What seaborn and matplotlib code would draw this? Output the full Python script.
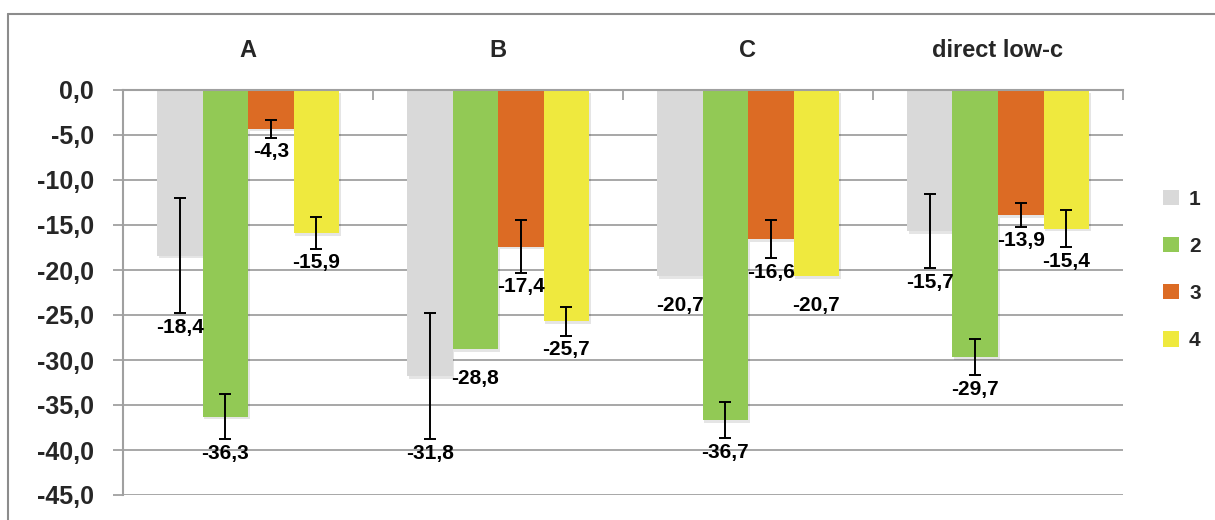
"""Grouped negative bar chart (Excel look) with error bars and value labels."""

import matplotlib

matplotlib.use("Agg")
import matplotlib.patheffects as pe
import matplotlib.pyplot as plt
import pandas as pd
import seaborn as sns
from matplotlib.lines import Line2D
from matplotlib.patches import Patch

categories = ["A", "B", "C", "direct low-c"]
series = ["1", "2", "3", "4"]

values_1 = [-18.4, -31.8, -20.7, -15.7]
values_2 = [-36.3, -28.8, -36.7, -29.7]
values_3 = [-4.3, -17.4, -16.6, -13.9]
values_4 = [-15.9, -25.7, -20.7, -15.4]

# half-widths of the error bars (0 = no error bar drawn)
errors_1 = [6.4, 7.0, 0.0, 4.1]
errors_2 = [2.5, 0.0, 2.0, 2.0]
errors_3 = [1.0, 2.9, 2.1, 1.3]
errors_4 = [1.75, 1.6, 0.0, 2.05]

y_ticks = [0, -5, -10, -15, -20, -25, -30, -35, -40, -45]

_COLORS = ["#d9d9d9", "#92c955", "#dc6b24", "#efe93e"]
_GRID = "#a0a0a0"
_INK = "#000000"

all_values = [values_1, values_2, values_3, values_4]
all_errors = [errors_1, errors_2, errors_3, errors_4]

df = pd.DataFrame(
    [
        {"category": cat, "series": s, "value": v}
        for s, vals in zip(series, all_values)
        for cat, v in zip(categories, vals)
    ]
)

sns.set_style("white")
plt.rcParams["font.family"] = ["Liberation Sans", "DejaVu Sans"]
plt.rcParams["font.weight"] = "bold"

fig = plt.figure(figsize=(12.15, 5.2), dpi=100)
ax = fig.add_axes([123 / 1215, 25 / 520, 1000 / 1215, 405 / 520])

sns.barplot(
    data=df,
    x="category",
    y="value",
    hue="series",
    order=categories,
    hue_order=series,
    palette=_COLORS,
    width=0.728,
    saturation=1,
    errorbar=None,
    linewidth=0,
    legend=False,
    ax=ax,
)

# soft Excel-like drop shadow under each bar
shadow = [pe.SimplePatchShadow(offset=(1.2, -2), shadow_rgbFace="#000000", alpha=0.1), pe.Normal()]

for container, errs in zip(ax.containers, all_errors):
    for bar, err in zip(container, errs):
        bar.set_path_effects(shadow)
        bar.set_zorder(2)
        x = bar.get_x() + bar.get_width() / 2
        v = min(bar.get_y(), bar.get_y() + bar.get_height())
        if err > 0:
            ax.errorbar(
                x, v, yerr=err, fmt="none", ecolor=_INK, elinewidth=1.4,
                capsize=4.5, capthick=1.4, zorder=4,
            )
            label_y = v - err - 0.5
        else:
            label_y = v - 2.2
        ax.text(
            x, label_y, f"{v:.1f}".replace(".", ","), ha="center", va="top",
            fontsize=15, fontweight="bold", color=_INK, zorder=5,
        )

ax.set_ylim(-45, 0)
ax.set_xlim(-0.5, len(categories) - 0.5)
ax.set_yticks(y_ticks)
ax.set_yticklabels([f"{t:.1f}".replace(".", ",") for t in y_ticks], fontweight="bold")
ax.grid(axis="y", color=_GRID, linewidth=1.3)
ax.set_axisbelow(True)
ax.tick_params(axis="y", direction="out", length=7, width=1.3, color=_GRID,
               labelsize=18, pad=14, left=True)

ax.xaxis.tick_top()
ax.set_xticks(range(len(categories)))
ax.set_xticklabels(categories, fontsize=17, fontweight="bold")
ax.set_xticks([i - 0.5 for i in range(len(categories) + 1)], minor=True)
ax.tick_params(axis="x", which="major", length=0, pad=20)
ax.tick_params(axis="x", which="minor", direction="in", length=7, width=1.3, color=_GRID)
ax.set_xlabel("")
ax.set_ylabel("")

for side in ("right", "bottom"):
    ax.spines[side].set_visible(False)
for side in ("top", "left"):
    ax.spines[side].set_color(_GRID)
    ax.spines[side].set_linewidth(1.5)

handles = [Patch(facecolor=c, edgecolor="none") for c in _COLORS]
fig.legend(
    handles, series, loc="center left", bbox_to_anchor=(1163 / 1215, 1 - 270 / 520),
    frameon=False, prop={"weight": "bold", "size": 15},
    handlelength=0.75, handleheight=0.75, handletextpad=0.5, labelspacing=1.35,
    borderpad=0, borderaxespad=0,
)

# outer chart border (top and left visible)
fig.add_artist(Line2D([8 / 1215, 1.0], [1 - 14 / 520] * 2, color="#8c8c8c", lw=1.5,
                      transform=fig.transFigure))
fig.add_artist(Line2D([8 / 1215] * 2, [0.0, 1 - 14 / 520], color="#8c8c8c", lw=1.5,
                      transform=fig.transFigure))

fig.savefig("out.png", dpi=100)
plt.close(fig)
